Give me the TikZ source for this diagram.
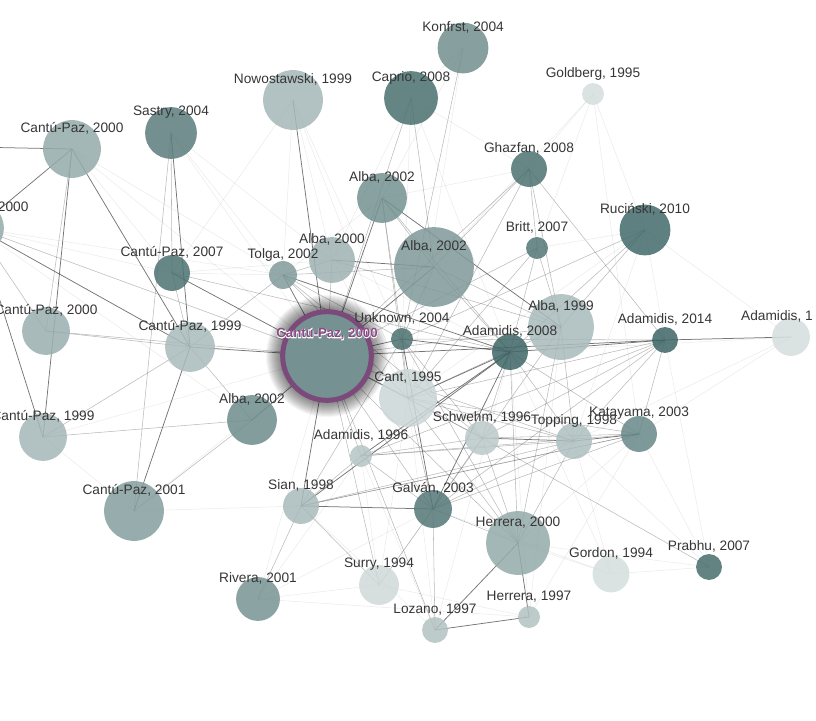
\documentclass[tikz,border=0pt]{standalone}
\usepackage{fontspec}
\setmainfont{Liberation Sans}
\newfontface\haloface[FakeBold=8]{Liberation Sans Bold}
\definecolor{tl}{HTML}{3F6666}
\definecolor{ring}{HTML}{7C4A7A}
\definecolor{ringtext}{HTML}{8A4A85}
\definecolor{ink}{HTML}{363636}
\pgfdeclarelayer{edges}
\pgfdeclarelayer{glow}
\pgfsetlayers{edges,glow,main}

\begin{document}
\begin{tikzpicture}[
    x=1bp, y=-1bp,
    paper/.style={circle, inner sep=0pt, fill opacity=.86},
    lbl/.style={text=ink, inner sep=0pt, font=\fontsize{13.7bp}{15bp}\selectfont},
    mainlbl/.style={text=ringtext, inner sep=0pt, font=\fontsize{13.2bp}{15bp}\selectfont\bfseries},
    tie/.style={draw=black!75, opacity=.72, line width=.75bp},
    link/.style={draw=black!60, opacity=.45, line width=.55bp},
    hint/.style={draw=black!45, opacity=.18, line width=.5bp}
]
\useasboundingbox (0,0) rectangle (816,721);
\clip (0,0) rectangle (816,721);

\foreach \nm/\x/\y/\rad/\tone in {
    Konfrst04/463/48/25.5/73, Caprio08/411/98/27/93, Goldberg95/593/94/11/22,
    Nowostawski99/293/100/30/47, Sastry04/171/133/26/85, CantuPaz00a/72/149/29/55,
    CantuPaz00b/-23/228/27/55, CantuPaz00c/46/331/24/52, CantuPaz99a/190/347/25/45,
    CantuPaz99b/43/437/24/47, CantuPaz01/134/511/30/63, CantuPaz07/172/273/18/92,
    Tolga02/283/275/14/65, Alba00/332/260/23/50, Alba02a/382/198/25/72,
    Alba02b/434/267/40/66, Alba99/561/327/33/45, Unknown04/402/339/11/92,
    Ghazfan08/529/169/18/92, Britt07/537/248/11/88, Rucinski10/645/230/25.5/97,
    Adamidis14/665/340/13/100, Adamidis1x/791/337/19/22, Adamidis08/510/352/18/100,
    Cant95/408/398/29/27, Alba02c/252/420/25/75, Adamidis96/361/456/11/38,
    Schwehm96/482/438/17/35, Topping98/574/441/18/42, Katayama03/639/434/18/78,
    Sian98/301/506/18/45, Galvan03/433/509/19/88, Herrera00/518/543/32/55,
    Rivera01/258/599/22/70, Surry94/379/585/20/25, Gordon94/611/574/18.5/22,
    Prabhu07/709/567/13/95, Herrera97/529/617/11/40, Lozano97/435/630/13/40}
  \node[paper, minimum size=2*\rad, fill=tl!\tone] (\nm) at (\x,\y) {};

\node[paper, minimum size=89, fill=tl!72, fill opacity=1, draw=ring, line width=5bp] (CantuPaz00) at (327,356) {};
\coordinate (OffLeft) at (-80,146);

\begin{pgfonlayer}{glow}
  \foreach \g in {1,...,16}
    \fill[black, opacity=.038] (CantuPaz00.center) circle ({45+\g});
\end{pgfonlayer}

\begin{pgfonlayer}{edges}
\foreach \a/\b in {
    CantuPaz00a/CantuPaz00b, CantuPaz00a/OffLeft, CantuPaz00a/CantuPaz99b, CantuPaz00a/CantuPaz99a,
    CantuPaz00b/CantuPaz99a, CantuPaz00b/CantuPaz99b, Sastry04/CantuPaz99a, CantuPaz07/CantuPaz00,
    CantuPaz99a/CantuPaz00, CantuPaz99a/CantuPaz01, Alba02a/CantuPaz00, Alba02a/Alba99,
    Alba00/Alba02b, Alba02b/CantuPaz00, Tolga02/CantuPaz00, Tolga02/Adamidis08,
    Adamidis14/Adamidis1x, Adamidis14/CantuPaz00, Adamidis14/Adamidis08, CantuPaz00/Cant95,
    CantuPaz00/Unknown04, Unknown04/Adamidis08, Adamidis08/Galvan03, Adamidis08/Cant95,
    Adamidis08/Sian98, Herrera00/Lozano97, Lozano97/Herrera97, Herrera00/Herrera97,
    Sian98/Galvan03, Sian98/CantuPaz00, Alba02c/CantuPaz00, Unknown04/Galvan03,
    Adamidis96/Adamidis08, Nowostawski99/CantuPaz00, Schwehm96/Topping98, Katayama03/Topping98}
  \draw[tie] (\a.center) -- (\b.center);
\foreach \a/\b in {
    CantuPaz00a/CantuPaz00c, CantuPaz00b/CantuPaz00c, CantuPaz00b/CantuPaz00, CantuPaz00c/CantuPaz99a,
    CantuPaz00c/CantuPaz00, CantuPaz99a/CantuPaz99b, Sastry04/CantuPaz01, Sastry04/CantuPaz07,
    CantuPaz07/CantuPaz99a, CantuPaz07/Adamidis08, CantuPaz99a/Tolga02, CantuPaz99a/Alba02c,
    Alba02c/CantuPaz01, Tolga02/Alba00, Tolga02/Alba02b, Tolga02/Cant95, Tolga02/Unknown04,
    Tolga02/Schwehm96, Alba00/CantuPaz00, Alba00/Alba99, Alba02a/Cant95, Alba02a/Adamidis08,
    Alba02a/Unknown04, Alba02a/Alba02b, Alba02b/Ghazfan08, Alba02b/Alba99, Alba02b/Adamidis08,
    Alba02b/Unknown04, Ghazfan08/Britt07, Ghazfan08/Alba99, Ghazfan08/Cant95, Ghazfan08/CantuPaz00,
    Ghazfan08/Adamidis14, Britt07/Alba99, Britt07/Adamidis08, Britt07/CantuPaz00, Britt07/Cant95,
    Rucinski10/Alba99, Rucinski10/Adamidis08, Rucinski10/Unknown04, Alba99/CantuPaz00,
    Alba99/Cant95, Alba99/Topping98, Alba99/Galvan03, Alba99/Herrera00, Adamidis14/Unknown04,
    Adamidis14/Cant95, Adamidis14/Schwehm96, Adamidis14/Topping98, Adamidis14/Galvan03,
    Adamidis14/Katayama03, Adamidis14/Adamidis96, Adamidis08/Schwehm96, Adamidis08/Topping98,
    Adamidis08/Katayama03, Adamidis08/Herrera00, Unknown04/Schwehm96, Unknown04/Herrera00,
    Unknown04/Sian98, Unknown04/Cant95, CantuPaz00/Schwehm96, CantuPaz00/Topping98,
    CantuPaz00/Adamidis96, CantuPaz00/Galvan03, CantuPaz00/Herrera00, CantuPaz00/Surry94,
    CantuPaz00/Lozano97, Cant95/Katayama03, Cant95/Topping98, Cant95/Galvan03, Cant95/Herrera00,
    Cant95/Schwehm96, Adamidis96/Schwehm96, Adamidis96/Topping98, Adamidis96/Katayama03,
    Adamidis96/Galvan03, Adamidis96/Sian98, Schwehm96/Katayama03, Schwehm96/Prabhu07,
    Schwehm96/Galvan03, Schwehm96/Herrera00, Topping98/Galvan03, Topping98/Herrera00,
    Katayama03/Galvan03, Katayama03/Sian98, Galvan03/Herrera00, Galvan03/Lozano97,
    Galvan03/Surry94, Sian98/Rivera01, Sian98/Surry94, Sian98/Topping98, Sian98/Katayama03,
    Caprio08/Alba02b, Caprio08/CantuPaz00, Konfrst04/Unknown04, Alba02c/CantuPaz99b}
  \draw[link] (\a.center) -- (\b.center);
\foreach \a/\b in {
    CantuPaz00a/CantuPaz00, CantuPaz00a/CantuPaz07, CantuPaz00a/Tolga02, CantuPaz00b/CantuPaz07,
    CantuPaz00b/Tolga02, CantuPaz00b/Alba02c, CantuPaz99b/CantuPaz01, CantuPaz99b/CantuPaz00,
    CantuPaz01/CantuPaz00, CantuPaz01/Sian98, Sastry04/CantuPaz00, Sastry04/Tolga02,
    Sastry04/Alba00, Nowostawski99/Tolga02, Nowostawski99/Alba00, Nowostawski99/Unknown04,
    Nowostawski99/Cant95, Nowostawski99/CantuPaz07, Caprio08/Alba00, Caprio08/Unknown04,
    Caprio08/Ghazfan08, Caprio08/Adamidis08, Konfrst04/Alba02a, Konfrst04/Cant95,
    Konfrst04/Caprio08, Goldberg95/Ghazfan08, Goldberg95/Britt07, Goldberg95/Katayama03,
    Goldberg95/Alba02b, Goldberg95/Rucinski10, Rucinski10/Adamidis1x, Rucinski10/Topping98,
    Rucinski10/Cant95, Rucinski10/Adamidis14, Rucinski10/Britt07, Katayama03/Prabhu07,
    Katayama03/Herrera00, Topping98/Gordon94, Topping98/Prabhu07, Gordon94/Galvan03,
    Gordon94/Herrera00, Gordon94/Prabhu07, Gordon94/Adamidis08, Prabhu07/Adamidis14,
    Prabhu07/Herrera00, Rivera01/Adamidis96, Rivera01/CantuPaz00, Rivera01/Surry94,
    Rivera01/Galvan03, Rivera01/Herrera97, Surry94/Cant95, Surry94/Galvan03, Surry94/Herrera97,
    Surry94/Adamidis96, Lozano97/Cant95, Lozano97/Adamidis08, Lozano97/Adamidis96,
    Lozano97/Sian98, Herrera97/Katayama03, Herrera97/Adamidis08, Herrera97/Alba99,
    Adamidis1x/Katayama03, Adamidis1x/Topping98, Adamidis1x/Adamidis08, CantuPaz07/Alba00,
    CantuPaz07/Tolga02, Alba02a/Ghazfan08, Alba02a/Tolga02, Alba00/Adamidis08, Alba00/Cant95}
  \draw[hint] (\a.center) -- (\b.center);
\end{pgfonlayer}

\foreach \nm/\txt in {
    Konfrst04/{Konfrst, 2004}, Caprio08/{Caprio, 2008}, Goldberg95/{Goldberg, 1995},
    Nowostawski99/{Nowostawski, 1999}, Sastry04/{Sastry, 2004}, CantuPaz00a/{Cantú-Paz, 2000},
    CantuPaz00b/{Cantú-Paz, 2000}, CantuPaz00c/{Cantú-Paz, 2000}, CantuPaz99a/{Cantú-Paz, 1999},
    CantuPaz99b/{Cantú-Paz, 1999}, CantuPaz01/{Cantú-Paz, 2001}, CantuPaz07/{Cantú-Paz, 2007},
    Tolga02/{Tolga, 2002}, Alba00/{Alba, 2000}, Alba02a/{Alba, 2002}, Alba02b/{Alba, 2002},
    Alba99/{Alba, 1999}, Unknown04/{Unknown, 2004}, Ghazfan08/{Ghazfan, 2008},
    Britt07/{Britt, 2007}, Rucinski10/{Ruciński, 2010}, Adamidis14/{Adamidis, 2014},
    Adamidis08/{Adamidis, 2008}, Cant95/{Cant, 1995}, Alba02c/{Alba, 2002},
    Adamidis96/{Adamidis, 1996}, Schwehm96/{Schwehm, 1996}, Topping98/{Topping, 1998},
    Katayama03/{Katayama, 2003}, Sian98/{Sian, 1998}, Galvan03/{Galván, 2003},
    Herrera00/{Herrera, 2000}, Rivera01/{Rivera, 2001}, Surry94/{Surry, 1994},
    Gordon94/{Gordon, 1994}, Prabhu07/{Prabhu, 2007}, Herrera97/{Herrera, 1997},
    Lozano97/{Lozano, 1997}}
  \node[lbl] (\nm-lbl) at ([yshift=20.5bp]\nm.center) {\txt};

\node[lbl, anchor=west] (Adamidis1x-lbl) at (741,316.5) {Adamidis, 1};
\node[mainlbl, text=white, font=\fontsize{13.2bp}{15bp}\haloface] (CantuPaz00-halo) at ([yshift=22bp]CantuPaz00.center) {Cantú-Paz, 2000};
\node[mainlbl] (CantuPaz00-lbl) at ([yshift=22bp]CantuPaz00.center) {Cantú-Paz, 2000};

\end{tikzpicture}
\end{document}
